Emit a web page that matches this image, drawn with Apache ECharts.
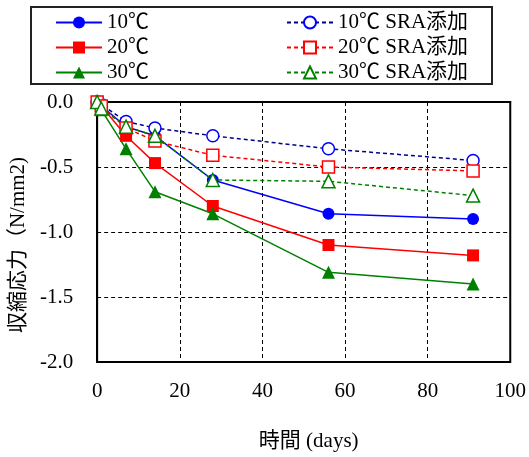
<!DOCTYPE html>
<html>
<head>
<meta charset="utf-8">
<script src="https://cdn.jsdelivr.net/npm/echarts@6/dist/echarts.min.js"></script>
<style>html,body{margin:0;padding:0;background:#fff;}#chart{width:529px;height:457px;}</style>
</head>
<body>
<div id="chart"></div>
<script>
const days = [0, 1, 7, 14, 28, 56, 91];
const s10 = [0, -0.03, -0.19, -0.26, -0.60, -0.86, -0.90];
const s20 = [0, -0.03, -0.26, -0.47, -0.80, -1.10, -1.18];
const s30 = [0, -0.06, -0.36, -0.69, -0.86, -1.31, -1.40];
const s10sra = [0, -0.02, -0.15, -0.20, -0.26, -0.36, -0.45];
const s20sra = [0, -0.03, -0.20, -0.30, -0.41, -0.50, -0.53];
const s30sra = [0, -0.05, -0.19, -0.26, -0.60, -0.61, -0.72];
const xTicks = [0, 20, 40, 60, 80, 100];
const yTicks = [0.0, -0.5, -1.0, -1.5, -2.0];

const FONT = '"Liberation Serif", "Noto Sans CJK JP", serif';
function pairs(arr){ return days.map((d,i)=>[d, arr[i]]); }

function mk(name, data, color, lineColor, symbol, size, dashed, hollow){
  return {
    name: name, type: 'line', data: pairs(data),
    symbol: symbol, symbolSize: size,
    lineStyle: {color: lineColor, width: 1.5, type: dashed ? [4,3] : 'solid'},
    itemStyle: {color: hollow ? '#fff' : color, borderColor: color, borderWidth: hollow ? 1.5 : 0},
    emphasis: {disabled: true},
    z: hollow ? 3 : 2
  };
}

const chart = echarts.init(document.getElementById('chart'), null, {renderer: 'canvas'});
const legendCommon = {
  orient: 'vertical', top: 12, padding: 0, itemGap: 4,
  itemWidth: 46, itemHeight: 15,
  textStyle: {fontFamily: FONT, fontSize: 21, color: '#000', lineHeight: 21}
};
chart.setOption({
  animation: false,
  backgroundColor: '#fff',
  graphic: [{type: 'rect', shape: {x: 31, y: 7, width: 461, height: 77}, style: {fill: 'none', stroke: '#222', lineWidth: 2}, z: 0}],
  legend: [
    Object.assign({left: 55, data: ['10℃', '20℃', '30℃']}, legendCommon),
    Object.assign({left: 286, data: ['10℃ SRA添加', '20℃ SRA添加', '30℃ SRA添加']}, legendCommon)
  ],
  grid: {left: 92, right: 17, top: 102, bottom: 91, show: true, borderColor: '#000', borderWidth: 2},
  xAxis: {
    type: 'value', min: xTicks[0], max: xTicks[xTicks.length-1], interval: 20,
    name: '時間 (days)', nameLocation: 'middle', nameGap: 69,
    nameTextStyle: {fontFamily: FONT, fontSize: 21, color: '#000', padding: [0,0,0,10]},
    axisLine: {lineStyle: {color: '#000', width: 2}},
    axisTick: {show: false},
    axisLabel: {fontFamily: FONT, fontSize: 21, color: '#000', margin: 19},
    splitLine: {show: true, lineStyle: {color: '#000', type: [4,3], width: 1}}
  },
  yAxis: {
    type: 'value', min: yTicks[yTicks.length-1], max: yTicks[0], interval: 0.5,
    name: '収縮応力（N/mm2)', nameLocation: 'middle', nameGap: 60, nameRotate: 90,
    nameTextStyle: {fontFamily: FONT, fontSize: 21, color: '#000', padding: [0, 26, 0, 0]},
    axisLine: {lineStyle: {color: '#000', width: 2}},
    axisTick: {show: false},
    axisLabel: {fontFamily: FONT, fontSize: 21, color: '#000', margin: 24, formatter: v => v.toFixed(1)},
    splitLine: {show: true, lineStyle: {color: '#000', type: [4,3], width: 1}}
  },
  series: [
    mk('10℃', s10, '#0000ff', '#0000ff', 'circle', 12, false, false),
    mk('20℃', s20, '#ff0000', '#ff0000', 'rect', 12, false, false),
    mk('30℃', s30, '#008000', '#008000', 'triangle', 13, false, false),
    mk('10℃ SRA添加', s10sra, '#0000ff', '#00008b', 'circle', 12, true, true),
    mk('20℃ SRA添加', s20sra, '#ff0000', '#ff0000', 'rect', 12, true, true),
    mk('30℃ SRA添加', s30sra, '#008000', '#008000', 'triangle', 13, true, true)
  ]
});
</script>
</body>
</html>
